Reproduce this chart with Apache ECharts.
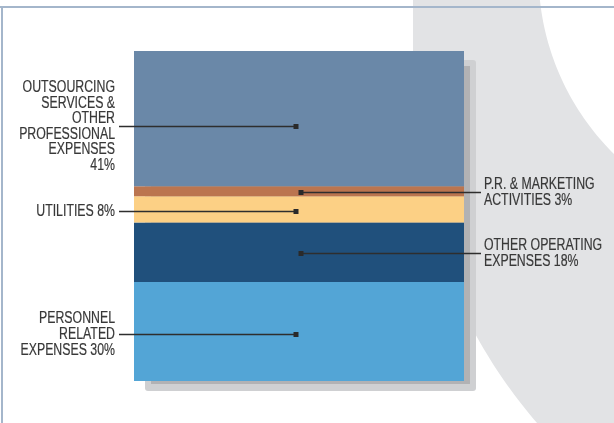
<!DOCTYPE html>
<html>
<head>
<meta charset="utf-8">
<style>
  html, body { margin: 0; padding: 0; background: #ffffff; }
  #chart { width: 614px; height: 423px; }
</style>
<script src="https://cdn.jsdelivr.net/npm/echarts@6/dist/echarts.min.js"></script>
</head>
<body>
<div id="chart"></div>
<script>
// Expense breakdown, stacked from the bottom of the column upwards
const categories = ['Expenses'];
const segmentNames = [
  'Personnel related expenses',
  'Other operating expenses',
  'Utilities',
  'P.R. & marketing activities',
  'Outsourcing services & other professional expenses'
];
const segmentValues = [30, 18, 8, 3, 41];
const labelTexts = [
  'PERSONNEL\nRELATED\nEXPENSES ',
  'OTHER OPERATING\nEXPENSES ',
  'UTILITIES ',
  'P.R. & MARKETING\nACTIVITIES ',
  'OUTSOURCING\nSERVICES &\nOTHER\nPROFESSIONAL\nEXPENSES\n'
];
const labelSides = ['left', 'right', 'left', 'right', 'left'];

// styling
const palette = ['#53a5d6', '#20507c', '#fcd085', '#bb754f', '#6a88a8'];
const anchorShift = [2.5, 1, 1.5, 0.5, 7.5]; // px nudges of each leader line
const FONT = '"Liberation Sans", Arial, sans-serif';
const TEXT_COLOR = '#383838';
const TEXT_SQUEEZE = 0.77; // condensed look for the labels

const chart = echarts.init(document.getElementById('chart'), null, { renderer: 'canvas' });

const grid = { left: 134, right: 150, top: 51, bottom: 42 };

chart.setOption({
  animation: false,
  backgroundColor: '#ffffff',
  grid: grid,
  xAxis: { type: 'category', data: categories, show: false },
  yAxis: { type: 'value', min: 0, max: 100, show: false },
  series: segmentValues.map((v, i) => ({
    name: segmentNames[i],
    type: 'bar',
    stack: 'total',
    barWidth: '100%',
    z: 10,
    itemStyle: { color: palette[i] },
    data: [v]
  }))
});

// points along a circular arc, from angle a0 to a1 (radians, screen coords)
function arcPoints(cx, cy, r, a0, a1, n) {
  const pts = [];
  for (let k = 0; k <= n; k++) {
    const a = a0 + (a1 - a0) * k / n;
    pts.push([cx + r * Math.cos(a), cy + r * Math.sin(a)]);
  }
  return pts;
}

function buildDecor() {
  const W = chart.getWidth(), H = chart.getHeight();
  const elements = [];

  // curved grey band in the background
  const outer = arcPoints(792.5, -26.7, 254, Math.atan2(26.7, 540 - 792.5), Math.atan2(181.7, 614 - 792.5), 40);
  const inner = arcPoints(922, 90, 509, Math.atan2(333, 537 - 922), Math.PI, 60);
  const band = [[413, 0]].concat(outer, [[614, 423]], inner, [[413, 90]]);
  elements.push({
    type: 'polygon', z: -20, silent: true,
    shape: { points: band },
    style: { fill: '#e2e3e5' }
  });
  // frame lines
  elements.push({ type: 'line', z: -10, silent: true,
    shape: { x1: 0, y1: 7, x2: W, y2: 7 }, style: { stroke: '#a4b6cb', lineWidth: 2 } });
  elements.push({ type: 'line', z: -10, silent: true,
    shape: { x1: 2, y1: 7, x2: 2, y2: H }, style: { stroke: '#a4b6cb', lineWidth: 2 } });

  // drop shadow behind the column
  const top = chart.convertToPixel({ yAxisIndex: 0 }, 100);
  const bottom = chart.convertToPixel({ yAxisIndex: 0 }, 0);
  const left = grid.left, right = W - grid.right;
  elements.push({ type: 'rect', z: -5, silent: true,
    shape: { x: left + 11, y: top + 9, width: right - left + 1, height: bottom - top + 1, r: 3 },
    style: { fill: '#cfd0d2' } });
  elements.push({ type: 'rect', z: -4, silent: true,
    shape: { x: left + 17, y: top + 15, width: right - left - 11, height: bottom - top - 12 },
    style: { fill: '#b2b2b4' } });

  // leader lines, markers and labels
  const cx = chart.convertToPixel({ xAxisIndex: 0 }, 0);
  let acc = 0;
  segmentValues.forEach((v, i) => {
    const mid = acc + v / 2;
    acc += v;
    const y = Math.round(chart.convertToPixel({ yAxisIndex: 0 }, mid) + anchorShift[i]) + 0.5;
    const text = labelTexts[i] + v + '%';
    const isLeft = labelSides[i] === 'left';
    const mx = isLeft ? cx - 3 : cx + 2;
    const lx = isLeft ? 119 : 481;
    elements.push({ type: 'line', z: 30, silent: true,
      shape: { x1: lx, y1: y, x2: mx, y2: y },
      style: { stroke: '#2e2e2e', lineWidth: 1.3 } });
    elements.push({ type: 'rect', z: 31, silent: true,
      shape: { x: mx - 2.5, y: y - 2.5, width: 5, height: 5 },
      style: { fill: '#2a2a2a' } });
    elements.push({ type: 'text', z: 32, silent: true,
      x: isLeft ? 115 : 484, y: y,
      scaleX: TEXT_SQUEEZE,
      style: {
        text: text,
        font: '16px ' + FONT,
        fill: TEXT_COLOR,
        stroke: TEXT_COLOR,
        lineWidth: 0.2,
        align: isLeft ? 'right' : 'left',
        verticalAlign: 'middle',
        lineHeight: 15.6
      } });
  });
  return elements;
}

chart.setOption({ graphic: { elements: buildDecor() } });
</script>
</body>
</html>
